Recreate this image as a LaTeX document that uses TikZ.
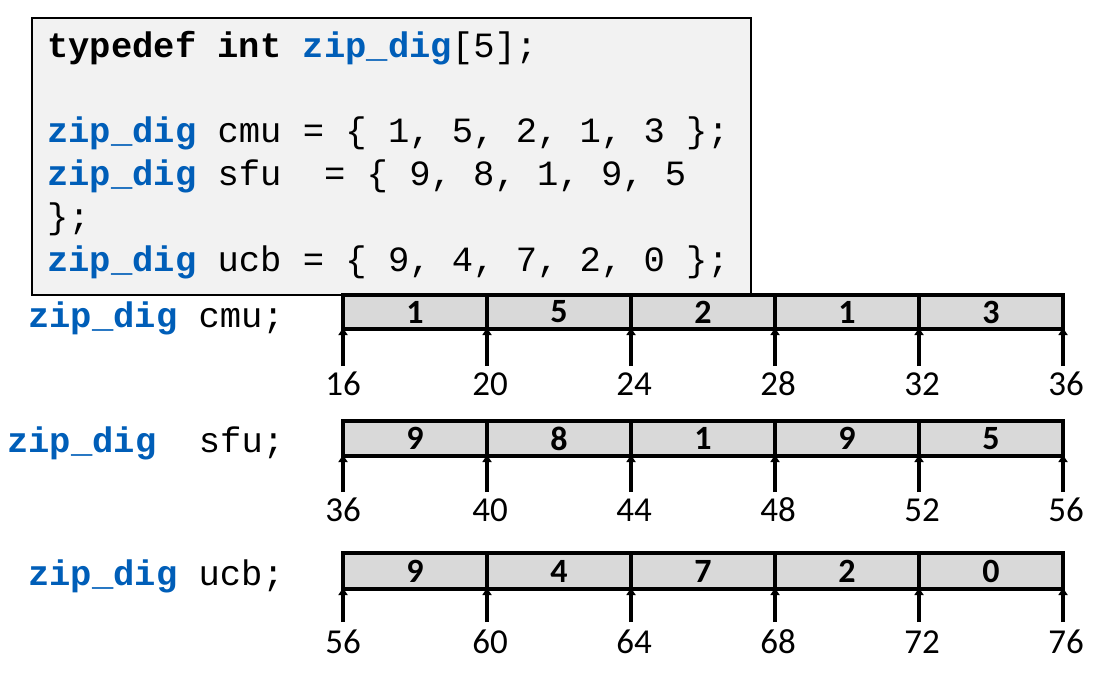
\documentclass[tikz,border=0pt]{standalone}
\usepackage{fontspec}
\setmainfont{Carlito}
\newfontfamily\codef{Liberation Mono}
\usetikzlibrary{arrows.meta}
\definecolor{kwblue}{RGB}{0,94,184}
\definecolor{codebg}{RGB}{242,242,242}
\definecolor{cellgray}{RGB}{217,217,217}
\begin{document}
\begin{tikzpicture}[x=1pt,y=-1pt,
  codetxt/.style={anchor=base west,inner sep=0pt,font=\codef\fontsize{35.5}{43}\selectfont},
  cell/.style={draw,line width=4pt,fill=cellgray,minimum width=144pt,inner sep=0pt,font=\bfseries\fontsize{34}{34}\selectfont},
  addr/.style={inner sep=0pt,font=\fontsize{35}{35}\selectfont},
  arr/.style={line width=4pt,-{Triangle[width=9pt,length=7pt]}}]
\useasboundingbox (0,0) rectangle (1100,683);
% code box
\node[draw,line width=2pt,fill=codebg,minimum width=719pt,minimum height=277pt,anchor=north west,inner sep=0pt] (box) at (31,17) {};
\node[codetxt] (l1) at (47,57) {\textbf{typedef int }\textcolor{kwblue}{\textbf{zip\_dig}}[5];};
\node[codetxt] (l2) at (47,142) {\textcolor{kwblue}{\textbf{zip\_dig}} cmu = \{ 1, 5, 2, 1, 3 \};};
\node[codetxt] (l3) at (47,185) {\textcolor{kwblue}{\textbf{zip\_dig}} sfu~~= \{ 9, 8, 1, 9, 5};
\node[codetxt] (l4) at (47,228) {\};};
\node[codetxt] (l5) at (47,271) {\textcolor{kwblue}{\textbf{zip\_dig}} ucb = \{ 9, 4, 7, 2, 0 \};};
% row labels
\node[codetxt] (n1) at (28,327) {\textcolor{kwblue}{\textbf{zip\_dig}} cmu;};
\node[codetxt] (n2) at (7,452) {\textcolor{kwblue}{\textbf{zip\_dig}}~~sfu;};
\node[codetxt] (n3) at (28,585) {\textcolor{kwblue}{\textbf{zip\_dig}} ucb;};
% arrays
\foreach \r/\yt/\yb/\ya/\yl/\vals/\addrs in {
  1/295/329/366/384/{1,5,2,1,3}/{16,20,24,28,32,36},
  2/421/456/492/510/{9,8,1,9,5}/{36,40,44,48,52,56},
  3/553/589/622/642/{9,4,7,2,0}/{56,60,64,68,72,76}}{
  \foreach \v [count=\i] in \vals {
    \node[cell,minimum height={\yb-\yt}] (c\r-\i) at ({343+144*(\i-1)+72},{(\yt+\yb)/2}) {\v};
  }
  \foreach \a [count=\j from 0] in \addrs {
    \coordinate (p\r-\j) at ({343+144*\j},\ya);
    \coordinate (q\r-\j) at ({343+144*\j},{\yb-1});
    \draw[arr] (p\r-\j) -- (q\r-\j);
    \node[addr] (a\r-\j) at ({343+144*\j+(\j>0?3:0)},\yl) {\a};
  }
}
\end{tikzpicture}
\end{document}
